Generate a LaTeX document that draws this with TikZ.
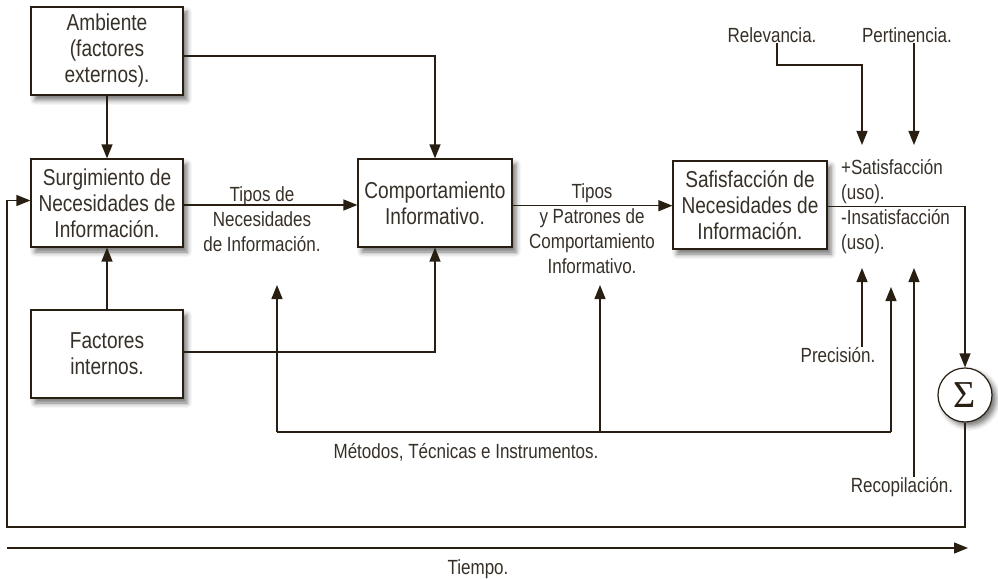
\documentclass[tikz,border=0pt]{standalone}
\usepackage{fontspec}
\setmainfont{Liberation Sans}[FakeStretch=0.83]
\newfontfamily\sigfont{Liberation Serif}
\usetikzlibrary{arrows.meta,shadows.blur}
\definecolor{linec}{RGB}{40,30,18}
\definecolor{textc}{RGB}{55,48,40}
\begin{document}
\begin{tikzpicture}[x=1pt,y=-1pt,
  box/.style={draw=linec, line width=1.2pt, fill=white, minimum width=152pt, minimum height=88pt,
    align=center, font=\fontsize{23}{26}\selectfont, text=textc, inner sep=2pt,
    blur shadow={shadow xshift=4pt, shadow yshift=-5pt, shadow blur radius=5pt, shadow opacity=55}},
  lbl/.style={align=center, font=\fontsize{20.5}{25}\selectfont, text=textc, inner sep=0pt},
  wire/.style={draw=linec, line width=1.3pt},
  arr/.style={wire, -{Triangle[length=14pt,width=11pt]}},
]
\useasboundingbox (0,0) rectangle (998,580);

% boxes
\node[box] (amb) at (107,51) {Ambiente\\(factores\\externos).};
\node[box] (surg) at (107,203) {Surgimiento de\\Necesidades de\\Información.};
\node[box] (fint) at (107,354) {Factores\\internos.};
\node[box, minimum width=154pt] (comp) at (435,203) {Comportamiento\\Informativo.};
\node[box, minimum width=154pt] (sat) at (750,205) {Safisfacción de\\Necesidades de\\Información.};
\node[circle, draw=linec, line width=1.2pt, fill=white, minimum size=54pt, inner sep=0pt, text=linec,
  blur shadow={shadow xshift=4pt, shadow yshift=-4pt, shadow blur radius=5pt, shadow opacity=55}]
  (sig) at (965,395) {\sigfont\fontsize{38}{38}\selectfont Σ};

% labels
\node[lbl] (tn) at (262,219) {Tipos de\\Necesidades\\de Información.};
\node[lbl] (tp) at (592,229) {Tipos\\y Patrones de\\Comportamiento\\Informativo.};
\node[lbl] (met) at (466,452) {Métodos, Técnicas e Instrumentos.};
\node[lbl] (tie) at (478,569) {Tiempo.};
\node[lbl] (rel) at (772,35) {Relevancia.};
\node[lbl] (per) at (907,35) {Pertinencia.};
\node[lbl] (pre) at (838,355) {Precisión.};
\node[lbl] (rec) at (902,487) {Recopilación.};
\node[lbl, align=left, anchor=west] (satl) at (841,207) {+Satisfacción\\(uso).\\-Insatisfacción\\(uso).};

% coordinates for free ends
\coordinate (relK) at (862,65);
\coordinate (relT) at (862,145);
\coordinate (perT) at (914,145);
\coordinate (preT) at (862,268);
\coordinate (recT) at (914,268);
\coordinate (m1) at (277,285);
\coordinate (m2) at (600,285);
\coordinate (m3) at (891,287);
\coordinate (mL) at (277,432);
\coordinate (mR) at (891,432);
\coordinate (fbl) at (7,527);
\coordinate (t0) at (7,548);
\coordinate (t1) at (968,548);

% connectors
\draw[arr] (amb) -- (surg);
\draw[arr] (fint) -- (surg);
\draw[arr] ([yshift=-5pt]amb.east) -| (comp.north);
\draw[arr] ([yshift=2pt]fint.east) -| (comp.south);
\draw[arr] ([yshift=-2pt]surg.east) -- ([yshift=-2pt]comp.west);
\draw[arr] ([yshift=-0.7pt]comp.east |- sat.west) -- ([yshift=-0.7pt]sat.west);
\draw[arr] ([yshift=-1.3pt]sat.east) -| (sig.north);
\draw[arr] (sig.south) |- (fbl) |- ([yshift=2.5pt]surg.west);
\draw[arr] (t0) -- (t1);

\draw[arr] ([xshift=5pt]rel.south) |- (relK) -- (relT);
\draw[arr] (per.south -| perT) -- (perT);
\draw[arr] (pre.north -| preT) -- (preT);
\draw[arr] (rec.north -| recT) -- (recT);

\draw[arr] (mL) -- (m1);
\draw[wire] (mL) -- (mR);
\draw[arr] (mR) -- (m3);
\draw[arr] (m2 |- mL) -- (m2);
\end{tikzpicture}
\end{document}
